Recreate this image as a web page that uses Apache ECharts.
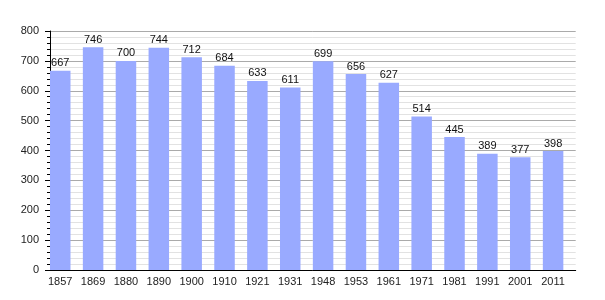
<!DOCTYPE html>
<html><head><meta charset="utf-8">
<script src="https://cdn.jsdelivr.net/npm/echarts@6/dist/echarts.min.js"></script>
<style>html,body{margin:0;padding:0;background:#fff}#c{width:605px;height:300px}</style>
</head><body><div id="c"></div>
<script>
var years = ['1857','1869','1880','1890','1900','1910','1921','1931','1948','1953','1961','1971','1981','1991','2001','2011'];
var population = [667,746,700,744,712,684,633,611,699,656,627,514,445,389,377,398];
var yTicks = [0,100,200,300,400,500,600,700,800];

var chart = echarts.init(document.getElementById('c'), null, {renderer:'canvas'});
var font = 'Liberation Sans, Arial, sans-serif';
chart.setOption({
  animation: false,
  grid: {left: 50, right: 29.3, top: 31, bottom: 30, containLabel: false},
  xAxis: {
    type: 'category', data: years,
    axisLine: {lineStyle: {color: '#000', width: 1}},
    axisTick: {show: false},
    axisLabel: {color: '#222', fontSize: 11, fontFamily: font, margin: 6, padding: [0, 12.4, 0, 0], interval: 0}
  },
  yAxis: {
    type: 'value', min: yTicks[0], max: yTicks[yTicks.length-1], interval: 100,
    axisLine: {show: true, lineStyle: {color: '#000', width: 1}},
    axisTick: {show: true, length: 5, lineStyle: {color: '#000'}},
    minorTick: {show: true, splitNumber: 5, length: 3, lineStyle: {color: '#000'}},
    splitLine: {show: true, lineStyle: {color: '#aaa', width: 1}},
    minorSplitLine: {show: true, lineStyle: {color: '#e2e2e2', width: 1}},
    axisLabel: {color: '#222', fontSize: 11, fontFamily: font, margin: 11}
  },
  series: [{
    type: 'bar', data: population, barWidth: 20.5, barGap: '-39.7%',
    itemStyle: {color: '#99aaff'},
    label: {show: true, position: 'top', distance: 2, color: '#111', fontSize: 11, fontFamily: font}
  }, {
    type: 'bar', data: years.map(function(){return '-';}), barWidth: 20.5,
    itemStyle: {color: 'transparent'}, silent: true
  }]
});
</script></body></html>
